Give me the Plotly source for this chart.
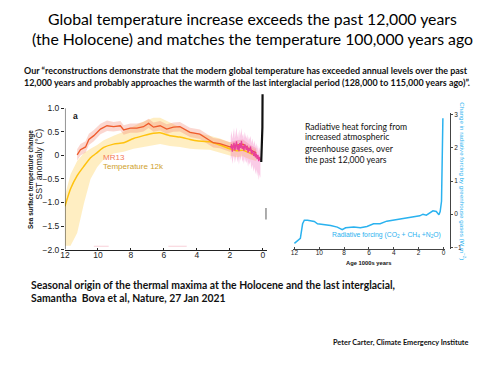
import plotly.graph_objects as go

# ---------------- data ----------------
# Temperature 12k reconstruction (age in kyr BP, SST anomaly degC)
t12k_age = [12.0, 11.66, 11.26, 10.85, 10.45, 10.05, 9.65, 9.05, 8.44, 7.84, 7.24, 6.63,
            6.23, 5.63, 5.03, 4.42, 4.02, 3.22, 2.61, 2.01, 1.61, 1.21, 0.80, 0.40]
t12k = [-1.08, -0.71, -0.43, -0.23, -0.05, 0.06, 0.17, 0.24, 0.27, 0.36, 0.42, 0.47,
        0.48, 0.42, 0.39, 0.34, 0.31, 0.29, 0.22, 0.14, 0.10, 0.11, 0.05, 0.00]
t12k_hi = [-0.85, -0.40, -0.12, 0.05, 0.14, 0.22, 0.32, 0.42, 0.50, 0.62, 0.72, 0.80,
           0.80, 0.70, 0.60, 0.52, 0.47, 0.42, 0.36, 0.28, 0.24, 0.24, 0.18, 0.12]
t12k_lo = [-1.92, -1.92, -1.65, -1.02, -0.50, -0.25, -0.08, 0.04, 0.08, 0.14, 0.18, 0.22,
           0.24, 0.20, 0.18, 0.14, 0.13, 0.12, 0.06, 0.00, -0.04, -0.02, -0.08, -0.12]

# MR13 reconstruction
mr13_age = [11.26, 11.06, 10.75, 10.55, 10.25, 9.85, 9.45, 9.05, 8.64, 8.44, 8.04, 7.64,
            7.24, 6.93, 6.63, 6.23, 5.83, 5.43, 5.03, 4.42, 3.82, 3.42, 3.01, 2.61,
            2.01, 1.61, 1.21, 0.80, 0.40]
mr13 = [0.01, 0.12, 0.18, 0.34, 0.42, 0.56, 0.63, 0.61, 0.63, 0.54, 0.58, 0.58,
        0.61, 0.68, 0.60, 0.63, 0.56, 0.60, 0.61, 0.49, 0.45, 0.36, 0.27, 0.25,
        0.18, 0.22, 0.24, 0.13, 0.05]
mr13_err = [0.12, 0.12, 0.12, 0.12, 0.12, 0.11, 0.11, 0.10, 0.10, 0.10, 0.10, 0.10,
            0.10, 0.10, 0.10, 0.10, 0.10, 0.10, 0.10, 0.10, 0.10, 0.10, 0.10, 0.10,
            0.10, 0.10, 0.10, 0.10, 0.10]

# high-resolution recent record (pink)
pink_age = [1.95, 1.90, 1.85, 1.80, 1.75, 1.70, 1.65, 1.60, 1.55, 1.50, 1.45, 1.40, 1.35,
            1.30, 1.25, 1.20, 1.15, 1.10, 1.05, 1.00, 0.95, 0.90, 0.85, 0.80, 0.75, 0.70,
            0.65, 0.60, 0.55, 0.50, 0.45, 0.40, 0.35, 0.30, 0.25, 0.20, 0.15]
pink_val = [0.15, 0.24, 0.08, 0.20, 0.27, 0.10, 0.18, 0.30, 0.12, 0.22, 0.09, 0.26, 0.16,
            0.31, 0.14, 0.20, 0.10, 0.24, 0.17, 0.12, 0.21, 0.06, 0.15, 0.10, 0.19, 0.03,
            0.11, 0.06, -0.01, 0.09, -0.04, 0.04, -0.08, 0.01, -0.12, -0.03, -0.10]
pink_hi = [0.40, 0.52, 0.35, 0.48, 0.58, 0.36, 0.45, 0.60, 0.38, 0.50, 0.34, 0.55, 0.42,
           0.58, 0.40, 0.46, 0.35, 0.50, 0.42, 0.36, 0.45, 0.30, 0.40, 0.34, 0.42, 0.26,
           0.36, 0.30, 0.22, 0.32, 0.18, 0.26, 0.14, 0.22, 0.08, 0.18, 0.10]
pink_lo = [-0.10, -0.02, -0.18, -0.06, 0.00, -0.16, -0.10, 0.02, -0.15, -0.05, -0.20, -0.02,
           -0.12, 0.04, -0.14, -0.08, -0.18, -0.04, -0.12, -0.16, -0.08, -0.24, -0.14, -0.20,
           -0.12, -0.30, -0.20, -0.26, -0.34, -0.24, -0.40, -0.30, -0.44, -0.34, -0.52, -0.40,
           -0.48]

# instrumental record (black)
instr_age = [0.10, 0.08, 0.07, 0.06, 0.05, 0.03, 0.02]
instr_val = [-0.14, 0.10, -0.05, 0.35, 0.42, 0.60, 1.30]

# faint marks near bottom of left panel
faint_age = [10.25, 9.35, None, 5.73, 4.62]
faint_val = [-1.93, -1.93, None, -1.93, -1.93]
mark_age = [-0.19, -0.19]
mark_val = [-1.12, -1.36]

# radiative forcing (W m-2)
rf_age = [12.0, 11.73, 11.52, 11.34, 11.2, 10.94, 10.67, 10.4, 10.14, 9.61, 9.08, 8.55,
          8.15, 7.88, 7.22, 6.69, 6.16, 5.63, 5.1, 4.57, 4.04, 3.5, 2.97, 2.44, 1.91,
          1.65, 1.38, 0.85, 0.58, 0.37, 0.27, 0.16, 0.11, 0.05]
rf = [-0.88, -0.78, -0.73, -0.29, -0.18, -0.18, -0.21, -0.22, -0.29, -0.31, -0.34, -0.39,
      -0.47, -0.41, -0.39, -0.41, -0.37, -0.29, -0.29, -0.21, -0.18, -0.15, -0.12, -0.08,
      -0.05, 0.0, -0.03, 0.10, 0.08, -0.02, 0.08, 0.39, 1.27, 2.90]

age_ticks = [12, 10, 8, 6, 4, 2, 0]
sst_ticks = [-2.0, -1.5, -1.0, -0.5, 0, 0.5, 1.0]
sst_ticktext = ["\u22122.0", "\u22121.5", "\u22121.0", "\u22120.5", "0", "0.5", "1.0"]
rf_ticks = [-1, 0, 1, 2, 3]
rf_ticktext = ["\u22121", "0", "1", "2", "3"]

# ---------------- layout helpers ----------------
# page has an 8px body margin: figure pixel = page pixel - 8
OFF = 8
W, H = 484, 359

def px(p):
    return (p - OFF) / W

def py(p):
    return 1 - (p - OFF) / H

CH = "Liberation Sans"
SL = "Lato"
fig = go.Figure()

def band(x, lo, hi, color, xa="x", ya="y"):
    fig.add_trace(go.Scatter(x=list(x) + list(x)[::-1], y=list(hi) + list(lo)[::-1],
                             fill="toself", fillcolor=color, line=dict(width=0),
                             mode="lines", hoverinfo="skip", xaxis=xa, yaxis=ya))

band(t12k_age, t12k_lo, t12k_hi, "rgba(255,214,110,0.42)")
band(mr13_age, [m - e for m, e in zip(mr13, mr13_err)],
     [m + e for m, e in zip(mr13, mr13_err)], "rgba(244,130,110,0.32)")
band(pink_age, pink_lo, pink_hi, "rgba(240,110,185,0.35)")

fig.add_trace(go.Scatter(x=t12k_age, y=t12k, mode="lines",
                         line=dict(color="#ffc20e", width=1.5, shape="spline", smoothing=0.6)))
fig.add_trace(go.Scatter(x=mr13_age, y=mr13, mode="lines",
                         line=dict(color="#ef5b2b", width=1.3)))
fig.add_trace(go.Scatter(x=pink_age, y=pink_val, mode="lines",
                         line=dict(color="#e8409a", width=1.3)))
fig.add_trace(go.Scatter(x=instr_age, y=instr_val, mode="lines",
                         line=dict(color="#111111", width=2.2)))
fig.add_trace(go.Scatter(x=faint_age, y=faint_val, mode="lines",
                         line=dict(color="rgba(240,150,170,0.45)", width=1.2)))
fig.add_trace(go.Scatter(x=mark_age, y=mark_val, mode="lines",
                         line=dict(color="#888888", width=1.5)))

fig.add_trace(go.Scatter(x=rf_age, y=rf, mode="lines", xaxis="x2", yaxis="y2",
                         line=dict(color="#2ab2ef", width=1.5)))

fig.update_layout(
    width=W, height=H, margin=dict(l=0, r=0, t=0, b=0),
    paper_bgcolor="white", plot_bgcolor="rgba(0,0,0,0)", showlegend=False,
    xaxis=dict(domain=[px(60.5), px(264.5)], range=[12, -0.24], tickvals=age_ticks,
               showline=True, linecolor="#222", linewidth=1, ticks="inside", ticklen=2,
               tickcolor="#222", showgrid=False, zeroline=False, anchor="y",
               tickfont=dict(family=CH, size=8.5, color="#222"), ticklabelstandoff=-3),
    yaxis=dict(domain=[py(252.3), py(91.5)], range=[-2, 1.35], tickvals=sst_ticks,
               ticktext=sst_ticktext, showline=False, ticks="outside", ticklen=3,
               tickcolor="#222", showgrid=False, zeroline=False, anchor="x",
               tickfont=dict(family=CH, size=8.5, color="#222")),
    xaxis2=dict(domain=[px(290.7), px(444.7)], range=[12.13, -0.135], tickvals=age_ticks,
                showline=True, linecolor="#444", linewidth=1, ticks="inside", ticklen=2,
                tickcolor="#444", showgrid=False, zeroline=False, anchor="y2",
                tickfont=dict(family=CH, size=6.5, color="#222"), ticklabelstandoff=-3),
    yaxis2=dict(domain=[py(251.7), py(113.3)], range=[-1.05, 3.05], tickvals=rf_ticks,
                ticktext=rf_ticktext, side="right", anchor="free", position=px(449.5),
                showline=True, linecolor="#444", linewidth=1, ticks="outside", ticklen=2,
                tickcolor="#444", showgrid=False, zeroline=False,
                tickfont=dict(family=CH, size=6.5, color="#222")),
)

# left axis line (stops at 1.0)
fig.add_shape(type="line", xref="x", yref="y", x0=12, x1=12, y0=-2, y1=1.0,
              line=dict(color="#222", width=1))

LSHIFT = -5  # empirical correction for left-anchored annotations

def txt(x, y, s, size, family=SL, color="#111", bold=False, xanchor="left", angle=0):
    if bold:
        s = "<b>" + s + "</b>"
    if xanchor == "left":
        x = x + LSHIFT
    fig.add_annotation(x=px(x), y=py(y), xref="paper", yref="paper", text=s,
                       showarrow=False, xanchor=xanchor, yanchor="middle", textangle=angle,
                       align=xanchor if xanchor != "center" else "center",
                       borderpad=0,
                       font=dict(family=family, size=size, color=color))

# slide text
txt(250, 17, "Global temperature increase exceeds the past 12,000 years", 15.8,
    color="#000", xanchor="center")
txt(250, 37.5, "(the Holocene) and matches the temperature 100,000 years ago", 15.8,
    color="#000", xanchor="center")
txt(23, 70, "Our \u201creconstructions demonstrate that the modern global temperature has exceeded annual levels over the past",
    8.95, bold=True)
txt(23, 82, "12,000 years and probably approaches the warmth of the last interglacial period (128,000 to 115,000 years ago)\u201d.",
    8.95, bold=True)
txt(30, 288.5, "Seasonal origin of the thermal maxima at the Holocene and the last interglacial,", 10.4, bold=True)
txt(30, 302, "Samantha&nbsp;&nbsp;Bova et al, Nature, 27 Jan 2021", 10.4, bold=True)
txt(470, 347, "Peter Carter, Climate Emergency Institute", 7.35, bold=True, xanchor="right")

# left panel labels
txt(73, 116, "a", 8.5, family=CH, bold=True)
txt(103, 158.5, "MR13", 8, family=CH, color="#f37a58")
txt(103, 168, "Temperature 12k", 8, family=CH, color="#cfa12c")
txt(34, 165, "SST anomaly (\u00b0C)", 8.8, family=CH, color="#222", xanchor="center", angle=-90)
txt(25.5, 181, "Sea surface temperature change", 6.4, family=CH, color="#111", bold=True,
    xanchor="center", angle=-90)

# right panel labels
txt(307, 127, "Radiative heat forcing from", 8.6)
txt(307, 138, "increased atmospheric", 8.6)
txt(307, 149.5, "greenhouse gases, over", 8.6)
txt(307, 160.5, "the past 12,000 years", 8.6)
txt(385, 237.5, "Radiative forcing (CO<sub>2</sub> + CH<sub>4</sub> +N<sub>2</sub>O)", 6.8,
    family=CH, color="#2ab2ef", xanchor="center")
txt(367, 266.5, "Age 1000s years", 5.8, family=CH, bold=True, xanchor="center")
txt(463, 183, "Change in radiative forcing by greenhouse gases (W m<sup>\u22122</sup>)", 6.2,
    family=CH, color="#2ab2ef", xanchor="center", angle=90)

fig.write_html("out.html")
